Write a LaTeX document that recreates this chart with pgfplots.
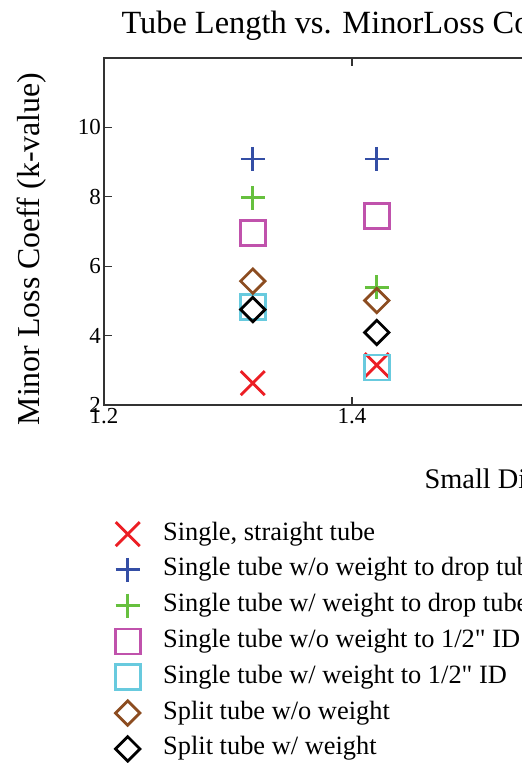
\documentclass[border=0pt]{standalone}
\usepackage{fontspec}
\setmainfont{Liberation Serif}
\usepackage{pgfplots}
\pgfplotsset{compat=1.18}

\definecolor{cRed}{RGB}{236,30,36}
\definecolor{cBlue}{RGB}{52,78,165}
\definecolor{cGreen}{RGB}{102,192,62}
\definecolor{cMagenta}{RGB}{192,82,172}
\definecolor{cCyan}{RGB}{104,202,222}
\definecolor{cBrown}{RGB}{140,76,32}

\begin{document}
\begin{tikzpicture}
\useasboundingbox (0,0) rectangle (522bp,763bp);
\clip (0,0) rectangle (522bp,763bp);
\begin{axis}[
  scale only axis,
  width=744bp, height=347bp,
  at={(104bp,358bp)}, anchor=south west,
  xmin=1.2, xmax=1.8, ymin=2, ymax=12,
  xtick={1.2,1.4,1.6,1.8},
  ytick={2,4,6,8,10},
  tick align=inside,
  major tick length=8bp,
  axis line style={black!80, line width=1.3bp},
  every tick/.style={black!80, line width=1.3bp},
  tick label style={font=\fontsize{23}{27}\selectfont},
  /pgf/number format/assume math mode=true,
  xticklabel style={/pgf/number format/.cd, fixed, precision=1, fixed zerofill},
  yticklabel style={inner xsep=3bp},
  title={Tube Length vs. MinorLoss Coefficient},
  every axis title/.style={at={(axis description cs:0.0188,1.0692)}, anchor=base west,
    font=\fontsize{32.5}{38}\selectfont},
  xlabel={Small Diameter Tube Length (in)},
  every axis x label/.style={at={(axis description cs:0.4261,-0.2392)}, anchor=base west,
    font=\fontsize{28.5}{34}\selectfont},
  ylabel={Minor Loss Coeff (k-value)},
  every axis y label/.style={at={(axis description cs:-0.087,0.4496)}, rotate=90, anchor=base,
    font=\fontsize{32}{37}\selectfont},
  legend style={at={(axis description cs:0.0108,-0.3141)}, anchor=north west,
    draw=none, fill=none, font=\fontsize{26.5}{31}\selectfont,
    nodes={inner sep=0pt, text height=24bp, text depth=11.8bp},
    column sep=23bp},
  legend cell align=left,
  legend image code/.code={\draw[#1,/tikz/only marks] plot coordinates {(0bp,0bp)};},
  every axis plot/.append style={only marks, line width=2.8bp},
  clip=false,
]
\addplot[cRed, mark=x, mark size=17bp] coordinates {(1.32,2.63) (1.42,3.15)};
\addlegendentry{Single, straight tube}
\addplot[cBlue, mark=+, mark size=12bp] coordinates {(1.32,9.09) (1.42,9.09)};
\addlegendentry{Single tube w/o weight to drop tube}
\addplot[cGreen, mark=+, mark size=12bp] coordinates {(1.32,7.97) (1.42,5.39)};
\addlegendentry{Single tube w/ weight to drop tube}
\addplot[cMagenta, mark=square, mark size=12.5bp] coordinates {(1.32,6.96) (1.42,7.45)};
\addlegendentry{Single tube w/o weight to 1/2\textquotedbl{} ID}
\addplot[cCyan, mark=square, mark size=12.5bp] coordinates {(1.32,4.82) (1.42,3.08)};
\addlegendentry{Single tube w/ weight to 1/2\textquotedbl{} ID}
\addplot[cBrown, mark=square, mark size=8.6bp, mark options={rotate=45}] coordinates {(1.32,5.57) (1.42,5.01)};
\addlegendentry{Split tube w/o weight}
\addplot[black, mark=square, mark size=8.6bp, mark options={rotate=45}] coordinates {(1.32,4.75) (1.42,4.09)};
\addlegendentry{Split tube w/ weight}
\end{axis}
\end{tikzpicture}
\end{document}
